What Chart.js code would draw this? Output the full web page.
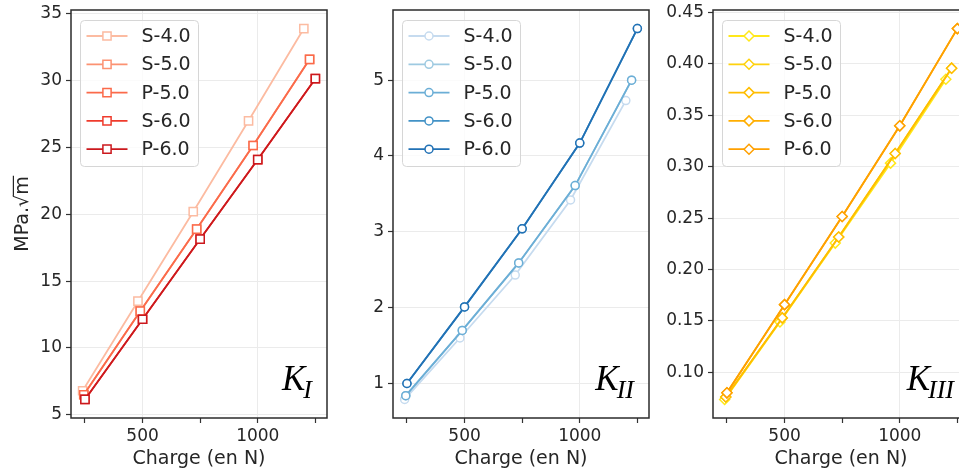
<!DOCTYPE html>
<html>
<head>
<meta charset="utf-8">
<script src="https://cdn.jsdelivr.net/npm/chart.js@4.4.1/dist/chart.umd.min.js"></script>
<style>
  html, body { margin: 0; padding: 0; background: #fff; }
  body { width: 959px; height: 474px; overflow: hidden; position: relative; }
  canvas { position: absolute; top: 0; }
</style>
</head>
<body>
<canvas id="chartKI" width="336" height="474" style="left:0px"></canvas>
<canvas id="chartKII" width="320" height="474" style="left:336px"></canvas>
<canvas id="chartKIII" width="320" height="474" style="left:656px"></canvas>
<script>
'use strict';

const seriesNames = ['S-4.0', 'S-5.0', 'P-5.0', 'S-6.0', 'P-6.0'];

// charge (N) of each series
const chargeS4 = [240, 480, 720, 960, 1200];
const chargeS5 = [245, 490, 735, 980, 1225];
const chargeP5 = [245, 490, 735, 980, 1225];
const chargeS6 = [250, 500, 750, 1000, 1250];
const chargeP6 = [250, 500, 750, 1000, 1250];

// K_I (MPa.sqrt(m))
const kiS4 = [6.8, 13.5, 20.2, 27.0, 33.9];
const kiS5 = [6.5, 12.75, 18.9, 25.15, 31.6];
const kiP5 = [6.5, 12.75, 18.9, 25.15, 31.6];
const kiS6 = [6.15, 12.15, 18.15, 24.1, 30.15];
const kiP6 = [6.15, 12.15, 18.15, 24.1, 30.15];

// K_II
const kiiS4 = [0.79, 1.60, 2.43, 3.42, 4.73];
const kiiS5 = [0.84, 1.70, 2.59, 3.61, 5.00];
const kiiP5 = [0.84, 1.70, 2.59, 3.61, 5.00];
const kiiS6 = [1.00, 2.01, 3.04, 4.17, 5.68];
const kiiP6 = [1.00, 2.01, 3.04, 4.17, 5.68];

// K_III
const kiiiS4 = [0.0735, 0.149, 0.2257, 0.3035, 0.3851];
const kiiiS5 = [0.076, 0.1529, 0.2316, 0.3129, 0.3959];
const kiiiP5 = [0.076, 0.1529, 0.2316, 0.3129, 0.3959];
const kiiiS6 = [0.080, 0.1658, 0.2516, 0.3398, 0.4344];
const kiiiP6 = [0.080, 0.1658, 0.2516, 0.3398, 0.4344];

const xTicks = [250, 500, 750, 1000, 1250];
const xTickLabels = ['', '500', '', '1000', ''];
const yTicksKI = [5, 10, 15, 20, 25, 30, 35];
const yTicksKII = [1, 2, 3, 4, 5];
const yTicksKIII = [0.10, 0.15, 0.20, 0.25, 0.30, 0.35, 0.40, 0.45];

const redColors = ['#fcbba1', '#fc9272', '#fb6a4a', '#ef3b2c', '#cb181d'];
const blueColors = ['#c6dbef', '#9ecae1', '#6baed6', '#4292c6', '#2171b5'];
const orangeColors = ['#ffe81a', '#ffd20d', '#ffbd00', '#ffae00', '#ffa000'];

const allCharges = [chargeS4, chargeS5, chargeP5, chargeS6, chargeP6];
const textColor = '#262626';
const fontFamily = '"DejaVu Sans", sans-serif';

Chart.defaults.font.family = fontFamily;
Chart.defaults.color = textColor;

const framePlugin = {
    id: 'frame',
    afterDatasetsDraw(chart) {
        const {ctx, chartArea: a} = chart;
        ctx.save();
        ctx.strokeStyle = '#2b2b2b';
        ctx.lineWidth = 1.5;
        ctx.strokeRect(a.left, a.top, a.right - a.left, a.bottom - a.top);
        ctx.restore();
    }
};

const boxLegendPlugin = {
    id: 'boxLegend',
    afterDatasetsDraw(chart) {
        const {ctx, chartArea: a} = chart;
        const x0 = a.left + 9.5;
        const y0 = a.top + 10.5;
        ctx.save();
        ctx.beginPath();
        ctx.roundRect(x0, y0, 118, 146, 4);
        ctx.fillStyle = 'rgba(255,255,255,0.8)';
        ctx.fill();
        ctx.strokeStyle = '#d6d6d6';
        ctx.lineWidth = 1;
        ctx.stroke();
        chart.data.datasets.forEach((ds, i) => {
            const cy = y0 + 15.5 + i * 28.3;
            ctx.strokeStyle = ds.borderColor;
            ctx.lineWidth = ds.borderWidth;
            ctx.beginPath();
            ctx.moveTo(x0 + 6, cy);
            ctx.lineTo(x0 + 47, cy);
            ctx.stroke();
            ctx.fillStyle = '#fff';
            ctx.lineWidth = ds.pointBorderWidth;
            Chart.helpers.drawPoint(ctx, {
                pointStyle: ds.pointStyle,
                radius: ds.pointRadius,
                borderWidth: ds.pointBorderWidth,
                rotation: 0
            }, x0 + 26.5, cy);
            ctx.fillStyle = textColor;
            ctx.font = '19px ' + fontFamily;
            ctx.textAlign = 'left';
            ctx.textBaseline = 'middle';
            ctx.fillText(ds.label, x0 + 61, cy + 1);
        });
        ctx.restore();
    }
};

// K with roman subscript, bottom right of the plot
const kLabelPlugin = {
    id: 'kLabel',
    afterDatasetsDraw(chart, args, opts) {
        if (!opts.sub) return;
        const {ctx, chartArea: a} = chart;
        ctx.save();
        ctx.fillStyle = '#000';
        ctx.textBaseline = 'alphabetic';
        ctx.font = 'italic 26px "Liberation Serif", serif';
        const subW = ctx.measureText(opts.sub).width;
        const subX = a.right - 15 - subW;
        ctx.textAlign = 'left';
        ctx.fillText(opts.sub, subX, a.bottom - 20);
        ctx.font = 'italic 35px "Liberation Serif", serif';
        ctx.textAlign = 'right';
        ctx.fillText('K', subX + 2, a.bottom - 28);
        ctx.restore();
    }
};

const yTitlePlugin = {
    id: 'yTitle',
    afterDraw(chart, args, opts) {
        if (!opts.text) return;
        const {ctx, chartArea: a} = chart;
        ctx.save();
        ctx.translate(28, (a.top + a.bottom) / 2);
        ctx.rotate(-Math.PI / 2);
        ctx.font = '19px ' + fontFamily;
        ctx.fillStyle = textColor;
        ctx.textBaseline = 'alphabetic';
        const full = ctx.measureText(opts.text).width;
        const before = ctx.measureText(opts.text.slice(0, -1)).width;
        ctx.textAlign = 'left';
        ctx.fillText(opts.text, -full / 2, 0);
        ctx.strokeStyle = textColor;
        ctx.lineWidth = 1.2;
        ctx.beginPath();
        ctx.moveTo(-full / 2 + before - 1, -14.6);
        ctx.lineTo(-full / 2 + full + 0.5, -14.6);
        ctx.stroke();
        ctx.restore();
    }
};

function buildDatasets(seriesValues, colors, pointStyle, pointRadius) {
    return seriesValues.map((values, i) => ({
        label: seriesNames[i],
        data: allCharges[i].map((x, j) => ({ x: x, y: values[j] })),
        borderColor: colors[i],
        backgroundColor: colors[i],
        borderWidth: 1.8,
        pointStyle: pointStyle,
        pointRadius: pointRadius,
        pointBorderWidth: 1.5,
        pointBackgroundColor: '#fff',
        pointBorderColor: colors[i],
        tension: 0,
        order: seriesValues.length - i
    }));
}

function createChart(id, cfg) {
    return new Chart(document.getElementById(id), {
        type: 'line',
        data: { datasets: buildDatasets(cfg.values, cfg.colors, cfg.pointStyle, cfg.pointRadius) },
        options: {
            responsive: false,
            animation: false,
            events: [],
            layout: { padding: { top: 10, right: cfg.rightPad, left: 0, bottom: 0 } },
            scales: {
                x: {
                    type: 'linear',
                    min: 189.5,
                    max: 1300.5,
                    afterFit: (s) => {
                        s.height = 56;
                        s.paddingLeft = 0;
                        s.paddingRight = 0;
                    },
                    afterBuildTicks: (s) => { s.ticks = xTicks.map(v => ({ value: v })); },
                    border: { display: false },
                    grid: {
                        color: (c) => (c.tick && xTickLabels[xTicks.indexOf(c.tick.value)] ? '#ebebeb' : 'rgba(0,0,0,0)'),
                        tickColor: '#333',
                        tickLength: 5,
                        tickWidth: 1.2
                    },
                    ticks: {
                        autoSkip: false,
                        maxRotation: 0,
                        padding: 3,
                        font: { size: 17 },
                        color: textColor,
                        callback: (v) => xTickLabels[xTicks.indexOf(v)] || ''
                    },
                    title: {
                        display: true,
                        text: 'Charge (en N)',
                        font: { size: 19 },
                        color: textColor,
                        padding: { top: 4, bottom: 4 }
                    }
                },
                y: {
                    type: 'linear',
                    min: cfg.yMin,
                    max: cfg.yMax,
                    afterFit: (s) => {
                        s.width = cfg.yWidth;
                        s.paddingTop = 0;
                        s.paddingBottom = 0;
                    },
                    afterBuildTicks: (s) => { s.ticks = cfg.yTicks.map(v => ({ value: v })); },
                    border: { display: false },
                    grid: {
                        color: '#ebebeb',
                        tickColor: '#333',
                        tickLength: 5,
                        tickWidth: 1.2
                    },
                    ticks: {
                        padding: 4,
                        font: { size: 17 },
                        color: textColor,
                        callback: (v) => v.toFixed(cfg.decimals)
                    }
                }
            },
            plugins: {
                legend: { display: false },
                tooltip: { enabled: false },
                kLabel: { sub: cfg.sub },
                yTitle: { text: cfg.yTitle }
            }
        },
        plugins: [framePlugin, boxLegendPlugin, kLabelPlugin, yTitlePlugin]
    });
}

createChart('chartKI', {
    values: [kiS4, kiS5, kiP5, kiS6, kiP6],
    colors: redColors,
    pointStyle: 'rect',
    pointRadius: 5.8,
    yMin: 4.76, yMax: 35.29,
    yTicks: yTicksKI, decimals: 0,
    yWidth: 71, rightPad: 9,
    sub: 'I',
    yTitle: 'MPa.\u221Am'
});

createChart('chartKII', {
    values: [kiiS4, kiiS5, kiiP5, kiiS6, kiiP6],
    colors: blueColors,
    pointStyle: 'circle',
    pointRadius: 4,
    yMin: 0.545, yMax: 5.925,
    yTicks: yTicksKII, decimals: 0,
    yWidth: 57, rightPad: 7,
    sub: 'II'
});

createChart('chartKIII', {
    values: [kiiiS4, kiiiS5, kiiiP5, kiiiS6, kiiiP6],
    colors: orangeColors,
    pointStyle: 'rectRot',
    pointRadius: 5,
    yMin: 0.0555, yMax: 0.4525,
    yTicks: yTicksKIII, decimals: 2,
    yWidth: 57, rightPad: 7,
    sub: 'III'
});
</script>
</body>
</html>
